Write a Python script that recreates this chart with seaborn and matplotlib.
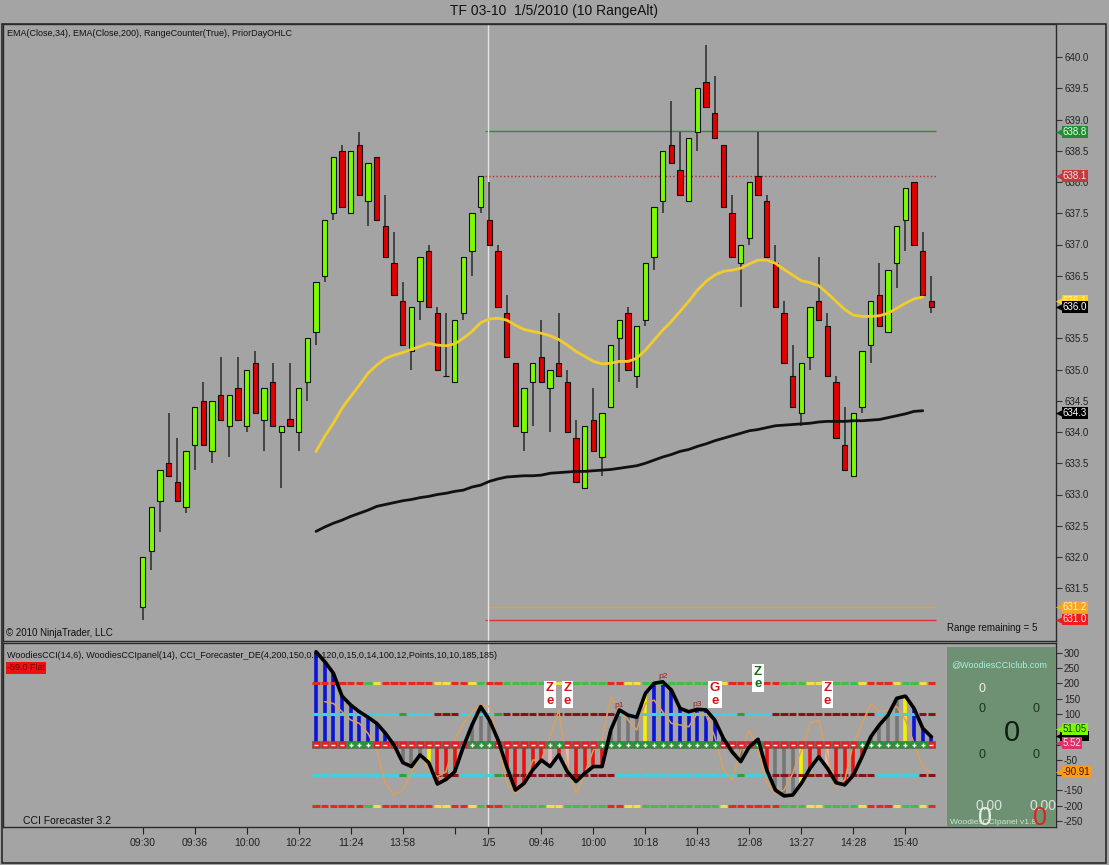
import numpy as np
import pandas as pd
import matplotlib
matplotlib.use("Agg")
import matplotlib.pyplot as plt
import seaborn as sns
from matplotlib.patches import Rectangle

# --- price bars (10 range bars) ---
bar_open = [631.2, 632.1, 632.9, 633.5, 633.2, 632.8, 633.8, 634.5, 633.7, 634.6,
            634.1, 634.7, 634.1, 635.1, 634.2, 634.8, 634.0, 634.2, 634.0, 634.8,
            635.6, 636.5, 637.5, 638.5, 637.5, 638.6, 637.7, 638.4, 637.3, 636.7,
            636.1, 635.3, 636.1, 636.9, 635.9, 634.9, 634.8, 635.9, 636.9, 637.6,
            637.4, 636.9, 635.9, 635.1, 634.0, 634.8, 635.2, 634.7, 635.1, 634.8,
            633.9, 633.1, 634.2, 633.6, 634.4, 635.5, 635.9, 634.9, 635.8, 636.8,
            637.7, 638.6, 638.2, 637.7, 638.8, 639.6, 639.1, 638.6, 637.5, 636.7,
            637.1, 638.1, 637.7, 636.7, 635.9, 634.9, 634.3, 635.2, 636.1, 635.7,
            634.8, 633.8, 633.3, 634.4, 635.4, 636.2, 635.6, 636.7, 637.4, 638.0,
            636.9, 636.1]
bar_high = [632.0, 632.8, 633.4, 634.3, 633.9, 633.7, 634.4, 634.8, 634.5, 635.2,
            634.6, 635.2, 635.0, 635.3, 634.7, 635.1, 634.1, 635.1, 634.7, 635.5,
            636.4, 637.4, 638.4, 638.6, 638.5, 638.8, 638.3, 638.4, 637.8, 637.2,
            636.4, 636.0, 636.8, 637.0, 636.0, 635.9, 635.8, 636.8, 637.5, 638.1,
            638.0, 637.0, 636.2, 635.1, 634.7, 635.1, 635.8, 635.0, 635.9, 635.0,
            634.2, 634.1, 634.7, 634.3, 635.4, 635.8, 636.0, 635.7, 636.7, 637.6,
            638.5, 639.3, 638.8, 638.7, 639.5, 640.2, 639.7, 638.6, 637.8, 637.0,
            638.0, 638.8, 637.8, 637.0, 636.1, 635.4, 635.1, 636.0, 636.8, 635.9,
            634.9, 634.4, 634.3, 635.3, 636.1, 636.7, 636.6, 637.3, 637.9, 638.0,
            637.2, 636.5]
bar_low = [631.0, 631.8, 632.4, 633.3, 632.9, 632.7, 633.4, 633.8, 633.5, 634.2,
           633.6, 634.2, 634.0, 634.3, 633.7, 634.1, 633.1, 634.1, 633.7, 634.5,
           635.4, 636.4, 637.4, 637.6, 637.5, 637.8, 637.3, 637.4, 636.8, 636.2,
           635.4, 635.0, 635.8, 636.0, 635.0, 634.9, 634.8, 635.8, 636.5, 637.5,
           637.0, 636.0, 635.2, 634.1, 633.7, 634.1, 634.8, 634.0, 634.9, 634.0,
           633.2, 633.1, 633.7, 633.3, 634.4, 634.8, 635.0, 634.7, 635.7, 636.6,
           637.5, 638.3, 637.8, 637.7, 638.5, 639.2, 638.7, 637.6, 636.8, 636.0,
           637.0, 637.8, 636.8, 636.0, 635.1, 634.4, 634.1, 635.0, 635.8, 634.9,
           633.9, 633.4, 633.3, 634.3, 635.1, 635.7, 635.6, 636.3, 636.9, 637.0,
           636.2, 635.9]
bar_close = [632.0, 632.8, 633.4, 633.3, 632.9, 633.7, 634.4, 633.8, 634.5, 634.2,
             634.6, 634.2, 635.0, 634.3, 634.7, 634.1, 634.1, 634.1, 634.7, 635.5,
             636.4, 637.4, 638.4, 637.6, 638.5, 637.8, 638.3, 637.4, 636.8, 636.2,
             635.4, 636.0, 636.8, 636.0, 635.0, 634.9, 635.8, 636.8, 637.5, 638.1,
             637.0, 636.0, 635.2, 634.1, 634.7, 635.1, 634.8, 635.0, 634.9, 634.0,
             633.2, 634.1, 633.7, 634.3, 635.4, 635.8, 635.0, 635.7, 636.7, 637.6,
             638.5, 638.3, 637.8, 638.7, 639.5, 639.2, 638.7, 637.6, 636.8, 637.0,
             638.0, 637.8, 636.8, 636.0, 635.1, 634.4, 635.1, 636.0, 635.8, 634.9,
             633.9, 633.4, 634.3, 635.3, 636.1, 635.7, 636.6, 637.3, 637.9, 637.0,
             636.2, 636.0]

# indicators start at bar 20
ind_start = 20
ema34 = [633.69, 633.93, 634.14, 634.38, 634.57, 634.75, 634.94, 635.07, 635.18, 635.23,
         635.27, 635.32, 635.37, 635.42, 635.39, 635.38, 635.41, 635.50, 635.61, 635.75,
         635.81, 635.82, 635.79, 635.71, 635.64, 635.61, 635.58, 635.54, 635.48, 635.39,
         635.29, 635.21, 635.13, 635.09, 635.10, 635.13, 635.13, 635.18, 635.31, 635.47,
         635.63, 635.77, 635.93, 636.09, 636.27, 636.41, 636.51, 636.57, 636.59, 636.62,
         636.69, 636.75, 636.75, 636.70, 636.60, 636.51, 636.42, 636.39, 636.34, 636.22,
         636.09, 635.96, 635.87, 635.85, 635.85, 635.86, 635.90, 635.98, 636.06, 636.13,
         636.16]
ema200 = [632.41, 632.48, 632.54, 632.59, 632.65, 632.70, 632.75, 632.81, 632.84, 632.87,
          632.90, 632.92, 632.95, 632.97, 633.00, 633.02, 633.05, 633.07, 633.12, 633.15,
          633.21, 633.25, 633.28, 633.29, 633.30, 633.30, 633.31, 633.34, 633.35, 633.36,
          633.37, 633.37, 633.38, 633.39, 633.40, 633.42, 633.44, 633.46, 633.50, 633.55,
          633.60, 633.64, 633.69, 633.72, 633.77, 633.81, 633.86, 633.90, 633.94, 633.98,
          634.02, 634.04, 634.07, 634.10, 634.11, 634.12, 634.13, 634.14, 634.16, 634.17,
          634.17, 634.17, 634.18, 634.18, 634.19, 634.20, 634.23, 634.26, 634.29, 634.33,
          634.34]

# prior day levels
prior_day = [638.82, 638.1, 631.2, 631.0]
prior_colors = ["#2e8b3a", "#b03030", "#e0a040", "#e03030"]
prior_styles = ["-", ":", "-", "-"]

# right-axis price tags
price_tags = [638.8, 638.1, 636.1, 636.0, 634.3, 631.2, 631.0]
price_tag_bg = ["#228b34", "#c43a3a", "#ffd21a", "#000000", "#000000", "#f5a623", "#ee1c1c"]
price_tag_fg = ["#e8ffe8", "#ffe0e0", "#fff6c0", "#ffffff", "#ffffff", "#fff2d0", "#ffe8e8"]
price_hidden_ticks = [636.0, 631.0]

# CCI panel
cci14 = [303, 271, 233, 158, 129, 107, 89, 69, 37, -2,
         -59, -72, -34, -59, -129, -114, -89, -7, 64, 124,
         80, 15, -72, -149, -127, -83, -51, -72, -34, -89,
         -121, -94, -72, -72, 47, 113, 96, 89, 167, 200,
         205, 178, 118, 107, 115, 113, 80, 20, -24, -56,
         -7, 17, -83, -149, -168, -165, -127, -78, -40, -78,
         -125, -132, -100, -40, 25, 64, 96, 151, 158, 118,
         53, 25]
cci6 = [np.nan, 140, 134, 107, 80, 69, 36, -18, -127, -165,
        -149, -94, -34, -83, -105, -89, 15, 69, 107, 129,
        124, 15, -127, -160, -127, -51, -51, 26, 113, -72,
        -160, -94, -18, 15, 156, 113, 80, 47, 134, 145,
        107, 69, 64, 58, 102, 96, 26, -83, -116, -18,
        47, -18, -127, -160, -149, -94, -18, 69, 80, -40,
        -138, -116, 4, 69, 134, 107, 113, 124, 80, 4,
        -72, -91]
hist_runs = [("b", 9), ("k", 4), ("y", 1), ("r", 4), ("k", 3), ("r", 6), ("p", 1), ("r", 1),
             ("p", 1), ("r", 4), ("k", 4), ("y", 1), ("b", 9), ("k", 4), ("r", 1), ("k", 3),
             ("y", 1), ("r", 2), ("p", 1), ("r", 4), ("k", 4), ("y", 1), ("b", 3)]
zero_runs = [("-", 4), ("+", 3), ("-", 11), ("+", 3), ("-", 6), ("+", 2), ("-", 4), ("+", 14),
             ("-", 4), ("+", 1), ("-", 11), ("+", 8), ("-", 1)]
level200_runs = [("r", 6), ("g", 1), ("y", 1), ("r", 6), ("y", 2), ("r", 2), ("y", 1), ("g", 1),
                 ("r", 2), ("g", 5), ("y", 2), ("g", 5), ("r", 2), ("y", 2), ("g", 9), ("y", 1),
                 ("r", 6), ("g", 3), ("y", 2), ("g", 4), ("y", 1), ("r", 3), ("y", 1), ("g", 2),
                 ("y", 1), ("r", 1)]
level100_runs = [("c", 10), ("g", 1), ("c", 3), ("d", 3), ("c", 4), ("g", 1), ("d", 13), ("c", 14),
                 ("g", 1), ("c", 3), ("d", 12), ("c", 5), ("d", 2)]

signal_bars = [47, 49, 66, 71, 79]
signal_letters = ["Z", "Z", "G", "Z", "Z"]
signal_colors = ["#d01818", "#d01818", "#d01818", "#107010", "#d01818"]
signal_level = [163, 163, 163, 218, 163]
pivot_bars = [55, 60, 64]
pivot_labels = ["p1", "p2", "p3"]
pivot_values = [116, 212, 118]

cci_tags = [51.05, 5.52, -90.91]
cci_tag_bg = ["#7cfc00", "#e0306a", "#ff9a1a"]
cci_tag_fg = ["#1a3a00", "#ffe8f0", "#3a1a00"]
cci_black_tag = 28
cci_hidden_ticks = [50, 0, -100]

tick_bars = [0, 6, 12, 18, 24, 30, 36, 39.85, 46, 52, 58, 64, 70, 76, 82, 88]
tick_labels = ["09:30", "09:36", "10:00", "10:22", "11:24", "13:58", "", "1/5",
               "09:46", "10:00", "10:18", "10:43", "12:08", "13:27", "14:28", "15:40"]
day_break = 39.85


def expand(runs):
    out = []
    for code, n in runs:
        out += [code] * n
    return out


W, H = 1109, 865
BG = "#a4a4a4"


def fx(px):
    return px / W


def fy(py):
    return 1 - py / H


sns.set_style("white", {"axes.facecolor": BG, "figure.facecolor": BG,
                        "axes.edgecolor": "#2a2a2a"})
plt.rcParams["font.family"] = ["Liberation Sans", "DejaVu Sans"]

fig = plt.figure(figsize=(W / 100, H / 100), dpi=100)
fig.patch.set_facecolor(BG)
ax = fig.add_axes([fx(3), fy(641), fx(1055.7) - fx(3), fy(24) - fy(641)])
ax2 = fig.add_axes([fx(3), fy(827), fx(1055.7) - fx(3), fy(643) - fy(827)], sharex=ax)

x = np.arange(len(bar_open))
o = np.array(bar_open)
c = np.array(bar_close)
hi = np.array(bar_high)
lo = np.array(bar_low)

# ---------------- price panel ----------------
ax.vlines(x, lo, hi, color="#2a2a2a", lw=1.1, zorder=2)
body_col = ["#7cfc00" if cc > oo else ("#e00000" if cc < oo else "#000000") for oo, cc in zip(o, c)]
ax.bar(x, np.abs(c - o), bottom=np.minimum(o, c), width=0.62, color=body_col,
       edgecolor="#111111", linewidth=0.8, zorder=3)

xi = np.arange(ind_start, ind_start + len(ema34))
ema_df = pd.DataFrame({"bar": xi, "ema34": ema34, "ema200": ema200})
sns.lineplot(data=ema_df, x="bar", y="ema34", ax=ax, color="#f2cc2c", lw=2, zorder=4)
sns.lineplot(data=ema_df, x="bar", y="ema200", ax=ax, color="#111111", lw=2, zorder=4)

for lvl, col, ls in zip(prior_day, prior_colors, prior_styles):
    ax.hlines(lvl, day_break - 0.4, 91.5, color=col, lw=1, linestyle=ls, zorder=1)

ax.axvline(day_break, color="#e4e4e4", lw=1, zorder=1)

ax.set_xlim(-16.12, 105.34)
ax.set_ylim(630.656, 640.528)
ax.set_xlabel("")
ax.set_ylabel("")
ax.yaxis.tick_right()
price_ticks = np.arange(631.5, 640.01, 0.5)
ax.set_yticks(price_ticks)
ax.set_yticklabels(["" if any(abs(v - h) < 1e-6 for h in price_hidden_ticks) else f"{v:.1f}"
                    for v in price_ticks])
ax.tick_params(axis="y", right=True, length=4, width=0.8, pad=2, labelsize=7,
               labelcolor="#222222", color="#333333")
ax.tick_params(axis="x", bottom=False, labelbottom=False)
for s in ax.spines.values():
    s.set_linewidth(1)
    s.set_color("#2a2a2a")

ytr = ax.get_yaxis_transform()
for val, bg, fg in zip(price_tags, price_tag_bg, price_tag_fg):
    ax.scatter([1.0035], [val], marker="<", s=28, color=bg, transform=ytr,
               clip_on=False, zorder=6, linewidths=0)
    ax.text(1.0065, val, f"{val:.1f}", transform=ytr, ha="left", va="center",
            fontsize=7, color=fg, clip_on=False, zorder=7,
            bbox=dict(boxstyle="square,pad=0.1", fc=bg, ec="none"))

# ---------------- CCI panel ----------------
xc = np.arange(ind_start, ind_start + len(cci14))
cci_arr = np.array(cci14, dtype=float)
hist_map = {"b": "#0a14d8", "k": "#767676", "y": "#f4f000", "r": "#ee1010", "p": "#f4b0b8"}
lvl200_map = {"r": "#e42a1e", "g": "#40c040", "y": "#f0e040"}
lvl100_map = {"c": "#38d4e6", "d": "#8a1414", "g": "#30a030"}

l200 = expand(level200_runs)
l100 = expand(level100_runs)
for lvl in (200, -200):
    ax2.hlines([lvl] * len(xc), xc - 0.42, xc + 0.42, colors=[lvl200_map[k] for k in l200],
               lw=2.2, zorder=3)
for lvl in (100, -100):
    ax2.hlines([lvl] * len(xc), xc - 0.42, xc + 0.42, colors=[lvl100_map[k] for k in l100],
               lw=2.2, zorder=3)

ax2.vlines(xc, 0, cci_arr, colors=[hist_map[k] for k in expand(hist_runs)], lw=2.6, zorder=2)

cci_df = pd.DataFrame({"bar": xc, "cci14": cci14, "cci6": cci6})
sns.lineplot(data=cci_df, x="bar", y="cci6", ax=ax2, color="#d9a060", lw=1.1, zorder=4)
sns.lineplot(data=cci_df, x="bar", y="cci14", ax=ax2, color="#000000", lw=2.6, zorder=6)

zsign = np.array(expand(zero_runs))
ax2.scatter(xc, np.zeros(len(xc)), marker="s", s=30,
            c=["#1f9a2a" if z == "+" else "#e02222" for z in zsign],
            edgecolors="#555555", linewidths=0.4, zorder=5)
ax2.scatter(xc[zsign == "+"], np.zeros((zsign == "+").sum()), marker="+", s=12,
            color="white", linewidths=1, zorder=5.5)
ax2.scatter(xc[zsign == "-"], np.zeros((zsign == "-").sum()), marker="_", s=12,
            color="white", linewidths=1, zorder=5.5)

for b, letter, col, lvl in zip(signal_bars, signal_letters, signal_colors, signal_level):
    ax2.text(b, lvl, letter + "\ne", ha="center", va="center", fontsize=9.5,
             fontweight="bold", color=col, linespacing=1.05, zorder=8,
             bbox=dict(boxstyle="square,pad=0.12", fc="white", ec="none"))

for b, lab, v in zip(pivot_bars, pivot_labels, pivot_values):
    ax2.text(b, v, lab, ha="center", va="bottom", fontsize=6, color="#a02020", zorder=7)

ax2.axvline(day_break, color="#e4e4e4", lw=1, zorder=1)

ax2.set_ylim(-269.6, 331.7)
ax2.set_xlabel("")
ax2.set_ylabel("")
ax2.yaxis.tick_right()
cci_ticks = np.arange(-250, 301, 50)
ax2.set_yticks(cci_ticks)
ax2.set_yticklabels(["" if v in cci_hidden_ticks else str(v) for v in cci_ticks])
ax2.tick_params(axis="y", right=True, length=4, width=0.8, pad=2, labelsize=7,
                labelcolor="#222222", color="#333333")
ax2.set_xticks(tick_bars)
ax2.set_xticklabels(tick_labels)
ax2.tick_params(axis="x", bottom=True, direction="out", length=5, width=0.8, pad=3,
                labelsize=7.5, labelcolor="#222222", color="#222222")
for s in ax2.spines.values():
    s.set_linewidth(1)
    s.set_color("#2a2a2a")

# Woodies panel box
ax2.add_patch(Rectangle((0.8967, 0), 0.1033, 0.978, transform=ax2.transAxes,
                        fc="#6e9174", ec="none", zorder=9))

ytr2 = ax2.get_yaxis_transform()
ax2.scatter([1.0035], [cci_black_tag], marker="<", s=28, color="black", transform=ytr2,
            clip_on=False, zorder=10, linewidths=0)
ax2.add_patch(Rectangle((1.0045, cci_black_tag - 15), 0.027, 30, transform=ytr2,
                        fc="black", ec="none", clip_on=False, zorder=10))
for val, bg, fg in zip(cci_tags, cci_tag_bg, cci_tag_fg):
    ax2.scatter([1.0035], [val], marker="<", s=28, color=bg, transform=ytr2,
                clip_on=False, zorder=11, linewidths=0)
    ax2.text(1.0065, val, f"{val:.2f}", transform=ytr2, ha="left", va="center",
             fontsize=7, color=fg, clip_on=False, zorder=12,
             bbox=dict(boxstyle="square,pad=0.1", fc=bg, ec="none"))

# ---------------- texts ----------------
fig.text(0.5, fy(11), "TF 03-10  1/5/2010 (10 RangeAlt)", ha="center", va="center",
         fontsize=10, color="#111111")
fig.text(fx(7), fy(33), "EMA(Close,34), EMA(Close,200), RangeCounter(True), PriorDayOHLC",
         ha="left", va="center", fontsize=6.5, color="#111111")
fig.text(fx(6), fy(633), "© 2010 NinjaTrader, LLC", ha="left", va="center",
         fontsize=7, color="#111111")
fig.text(fx(947), fy(628), "Range remaining = 5", ha="left", va="center",
         fontsize=7, color="#111111")
fig.text(fx(7), fy(656),
         "WoodiesCCI(14,6), WoodiesCCIpanel(14), CCI_Forecaster_DE(4,200,150,0.5,120,0,15,0,14,100,12,Points,10,10,185,185)",
         ha="left", va="center", fontsize=6.5, color="#111111")
fig.text(fx(7), fy(668), "-59.0 Flat", ha="left", va="center", fontsize=6.5,
         color="#6a0000", bbox=dict(boxstyle="square,pad=0.15", fc="#ee1111", ec="none"))
fig.text(fx(23), fy(821), "CCI Forecaster 3.2", ha="left", va="center",
         fontsize=7.5, color="#111111")

fig.text(fx(951), fy(665), "@WoodiesCCIclub.com", ha="left", va="center",
         fontsize=6.5, color="#a8f2dc", zorder=12)
fig.text(fx(982), fy(689), "0", ha="center", va="center", fontsize=9, color="#eeeeee", zorder=12)
for px, py in [(982, 709), (1036, 709), (982, 755), (1036, 755)]:
    fig.text(fx(px), fy(py), "0", ha="center", va="center", fontsize=9,
             color="#1c3220", zorder=12)
fig.text(fx(1012), fy(733), "0", ha="center", va="center", fontsize=21,
         color="#0e1e10", zorder=12)
for px in (989, 1043):
    fig.text(fx(px), fy(806), "0.00", ha="center", va="center", fontsize=10,
             color="#d8e4d8", zorder=12)
fig.text(fx(950), fy(823), "WoodiesCCIpanel v1.8", ha="left", va="center",
         fontsize=6, color="#d0e2d0", zorder=12)
fig.text(fx(985), fy(818), "0", ha="center", va="center", fontsize=18,
         color="#e8eee8", zorder=13)
fig.text(fx(1040), fy(818), "0", ha="center", va="center", fontsize=18,
         color="#e02020", zorder=13)

# outer frame
fig.patches.append(Rectangle((fx(1.5), fy(863)), fx(1106) - fx(1.5), fy(24) - fy(863),
                             transform=fig.transFigure, fill=False, ec="#2a2a2a", lw=1.2))

fig.savefig("out.png", dpi=100, facecolor=BG)
